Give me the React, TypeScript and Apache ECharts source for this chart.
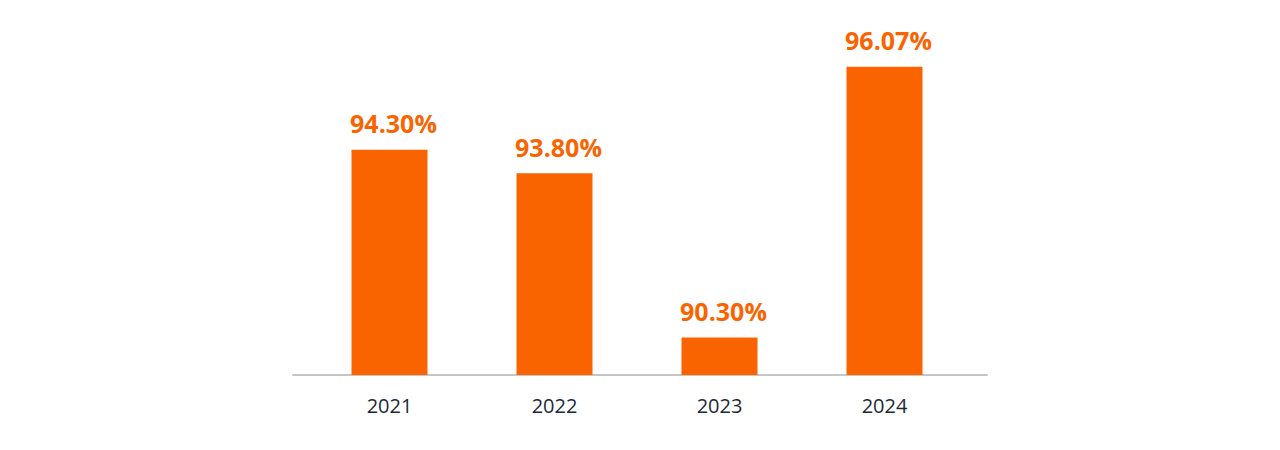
import React, { useEffect, useRef } from "react";
import * as echarts from "echarts";

const categories = ["2021", "2022", "2023", "2024"];
const values = [94.3, 93.8, 90.3, 96.07];
const labels = ["94.30%", "93.80%", "90.30%", "96.07%"];

export default function App() {
  const ref = useRef<HTMLDivElement>(null);
  useEffect(() => {
    const chart = echarts.init(ref.current!, null, { renderer: "svg" });
    chart.setOption({
      animation: false,
      grid: [
        { left: 307, right: 313, top: 23, bottom: 75 },
        { left: 293, right: 293, top: 23, bottom: 75 },
      ],
      xAxis: [
        {
          type: "category",
          gridIndex: 0,
          data: categories,
          axisLine: { show: false },
          axisTick: { show: false },
          axisLabel: {
            color: "#1c2a38",
            fontSize: 20,
            fontFamily: "Open Sans",
            margin: 20,
          },
        },
        {
          type: "value",
          gridIndex: 1,
          min: 0,
          max: 1,
          axisLine: { show: true, onZero: false, lineStyle: { color: "#c4c6c8", width: 2 } },
          axisTick: { show: false },
          axisLabel: { show: false },
          splitLine: { show: false },
        },
      ],
      yAxis: [
        {
          type: "value",
          gridIndex: 0,
          min: 89.5,
          max: 97,
          show: false,
          splitLine: { show: false },
        },
        {
          type: "value",
          gridIndex: 1,
          show: false,
          splitLine: { show: false },
        },
      ],
      series: [
        {
          type: "bar",
          xAxisIndex: 0,
          yAxisIndex: 0,
          data: values,
          barWidth: 76,
          itemStyle: { color: "#f96400" },
          label: {
            show: true,
            position: "top",
            distance: 14,
            offset: [4, 0],
            color: "#f96400",
            fontSize: 25,
            fontWeight: "bold",
            fontFamily: "Open Sans",
            formatter: (p: any) => labels[p.dataIndex],
          },
        },
      ],
    });
    return () => chart.dispose();
  }, []);
  return (
    <div
      ref={ref}
      style={{ position: "absolute", left: 0, top: 0, width: 1280, height: 450 }}
    />
  );
}
